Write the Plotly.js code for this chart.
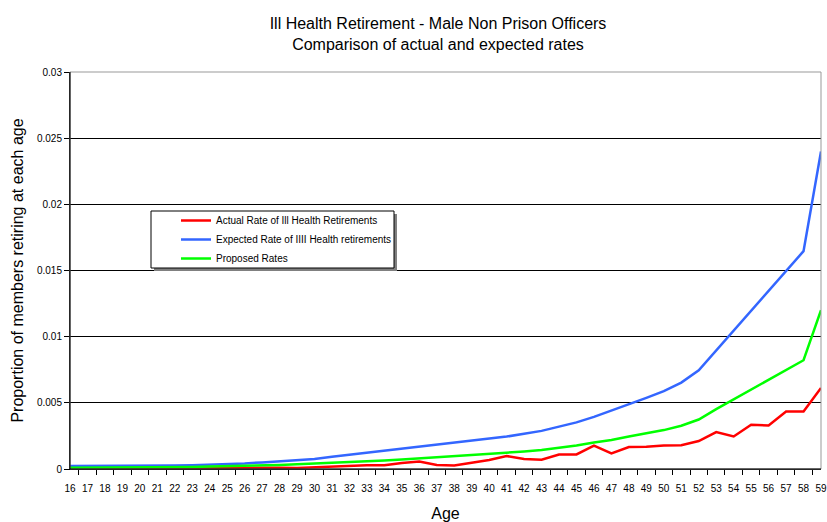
<!DOCTYPE html>
<html>
<head>
<meta charset="utf-8">
<script src="https://cdn.plot.ly/plotly-3.0.1.min.js"></script>
<style>
  html, body { margin: 0; padding: 0; background: #fff; }
  #chart { width: 827px; height: 522px; }
</style>
</head>
<body>
<div id="chart"></div>
<script>
const ages = ['16','17','18','19','20','21','22','23','24','25','26','27','28','29','30','31','32','33','34','35','36','37','38','39','40','41','42','43','44','45','46','47','48','49','50','51','52','53','54','55','56','57','58','59'];

const actualRate = [0,0,0,0,0,0,0.00003,0.00003,0.00005,0.00005,0.00008,0.0001,0.0001,0.00008,0.00013,0.00015,0.00022,0.00029,0.00028,0.00046,0.00056,0.0003,0.00027,0.00045,0.00068,0.00098,0.00075,0.0007,0.0011,0.0011,0.00176,0.00118,0.00166,0.00168,0.00178,0.0018,0.00211,0.00279,0.00246,0.00334,0.00329,0.00435,0.00435,0.00613];

const expectedRate = [0.00022,0.00022,0.00022,0.00022,0.00022,0.00022,0.00026,0.00028,0.00032,0.00035,0.00042,0.0005,0.00058,0.00066,0.00075,0.00093,0.00108,0.00123,0.00139,0.00154,0.0017,0.00181,0.00195,0.0021,0.00226,0.00245,0.00266,0.00288,0.0032,0.00352,0.00394,0.0044,0.00492,0.00538,0.00588,0.00653,0.00746,0.00897,0.01048,0.01196,0.01347,0.01495,0.01646,0.024];

const proposedRate = [0.0001,0.0001,0.0001,0.0001,0.0001,0.0001,0.00013,0.00015,0.00018,0.0002,0.00024,0.00028,0.00031,0.00035,0.0004,0.00045,0.0005,0.00057,0.00064,0.00072,0.0008,0.00088,0.00096,0.00104,0.00112,0.00122,0.00132,0.00143,0.00158,0.00177,0.002,0.00219,0.00246,0.00269,0.00294,0.00327,0.00374,0.00452,0.00525,0.006,0.00673,0.00749,0.00822,0.012];

const yTickVals = [0, 0.005, 0.01, 0.015, 0.02, 0.025, 0.03];
const yTickText = ['0', '0.005', '0.01', '0.015', '0.02', '0.025', '0.03'];

const seriesNames = ['Actual Rate of Ill Health Retirements', 'Expected Rate of IIII Health retirements', 'Proposed Rates'];

const FONT = '"Liberation Sans Narrow", "Arial Narrow", "Liberation Sans", Arial, sans-serif';

const traces = [
  { x: ages, y: actualRate, name: seriesNames[0], type: 'scatter', mode: 'lines', line: { color: '#ff0000', width: 2.5 } },
  { x: ages, y: expectedRate, name: seriesNames[1], type: 'scatter', mode: 'lines', line: { color: '#3366ff', width: 2.5 } },
  { x: ages, y: proposedRate, name: seriesNames[2], type: 'scatter', mode: 'lines', line: { color: '#00ff00', width: 2.5 } }
];

// paper coordinates helpers (plot area 70..821 x, 72..469 y)
const L = 70, R = 821, T = 72, B = 469;
const px = v => (v - L) / (R - L);
const py = v => (B - v) / (B - T);

const layout = {
  width: 827, height: 522,
  margin: { l: L, r: 827 - R, t: T, b: 522 - B },
  paper_bgcolor: '#ffffff', plot_bgcolor: '#ffffff',
  font: { family: FONT, color: '#000', size: 10 },
  title: {
    text: 'Ill Health Retirement - Male Non Prison Officers<br>Comparison of actual and expected rates',
    font: { family: FONT, size: 16, color: '#000' },
    x: 438 / 827, xref: 'container', xanchor: 'center',
    y: 1 - 29 / 522, yref: 'container', yanchor: 'top'
  },
  xaxis: {
    type: 'category',
    title: { text: 'Age', font: { family: FONT, size: 16, color: '#000' }, standoff: 14 },
    tickson: 'boundaries', ticks: 'outside', ticklen: 5, tickcolor: '#000',
    ticklabelstandoff: 10,
    showline: true, linecolor: '#000', linewidth: 1,
    showgrid: false, zeroline: false,
    tickfont: { family: FONT, size: 10, color: '#000' },
    tickangle: 0, automargin: false
  },
  yaxis: {
    range: [0, 0.03],
    tickvals: yTickVals, ticktext: yTickText,
    title: { text: 'Proportion of members retiring at each age', font: { family: FONT, size: 16, color: '#000' }, standoff: 9 },
    ticks: 'outside', ticklen: 5, tickcolor: '#000',
    showline: true, linecolor: '#000', linewidth: 1,
    showgrid: true, gridcolor: '#000', gridwidth: 1,
    zeroline: false,
    tickfont: { family: FONT, size: 10, color: '#000' },
    automargin: false
  },
  showlegend: true,
  legend: {
    x: px(176), y: py(206), xanchor: 'left', yanchor: 'top',
    bgcolor: 'rgba(0,0,0,0)', borderwidth: 0,
    font: { family: FONT, size: 10, color: '#000' },
    tracegroupgap: 0, itemwidth: 30
  },
  shapes: [
    { type: 'rect', xref: 'paper', yref: 'paper', x0: 0, x1: 1, y0: 0, y1: 1,
      line: { color: '#999999', width: 1 }, layer: 'above' },
    { type: 'line', xref: 'paper', yref: 'paper', x0: 0, x1: 0, y0: 0, y1: 1,
      line: { color: '#000', width: 1 }, layer: 'above' },
    { type: 'line', xref: 'paper', yref: 'paper', x0: 0, x1: 1, y0: 0, y1: 0,
      line: { color: '#000', width: 1 }, layer: 'above' },
    { type: 'rect', xref: 'paper', yref: 'paper', x0: px(154), x1: px(397), y0: py(271), y1: py(214),
      fillcolor: '#808080', line: { width: 0 }, layer: 'above' },
    { type: 'rect', xref: 'paper', yref: 'paper', x0: px(151), x1: px(394), y0: py(268), y1: py(211),
      fillcolor: '#ffffff', line: { color: '#000', width: 1 }, layer: 'above' }
  ]
};

Plotly.newPlot('chart', traces, layout, { displayModeBar: false, staticPlot: true });
</script>
</body>
</html>
